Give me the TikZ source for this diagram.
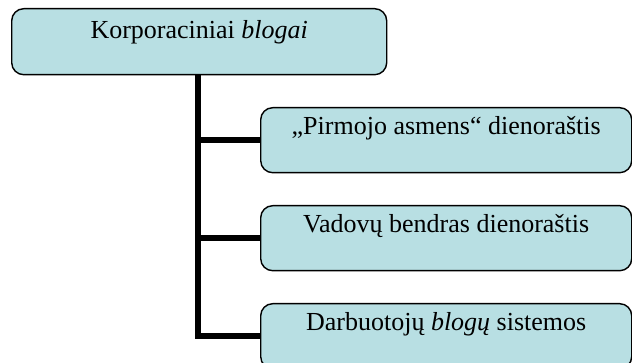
\documentclass[tikz,border=0pt]{standalone}
\usepackage{fontspec}
\setmainfont{Liberation Serif}
\begin{document}
\begin{tikzpicture}[x=1pt,y=-1pt,
  box/.style={draw=black, line width=1.4pt, rounded corners=12pt,
    fill=boxfill, inner sep=0pt, font=\fontsize{26}{30}\selectfont},
  topbox/.style={box, minimum width=375pt, text height=30pt, text depth=36pt},
  subbox/.style={box, minimum width=371pt, text height=27pt, text depth=38pt},
  conn/.style={line width=6pt, line join=miter}]
\definecolor{boxfill}{RGB}{184,223,227}
\useasboundingbox (0,0) rectangle (632,363);
\node[topbox, anchor=north west] (root) at (11,8) {Korporaciniai \textit{blogai}};
\node[subbox, anchor=north west] (c1) at (260,107) {„Pirmojo asmens“ dienoraštis};
\node[subbox, anchor=north west] (c2) at (260,205) {Vadovų bendras dienoraštis};
\node[subbox, anchor=north west] (c3) at (260,303) {Darbuotojų \textit{blogų} sistemos};
\coordinate (trunk) at (198,0);
\draw[conn] (root.south -| trunk) -- (trunk |- c3.west) -- (c3.west);
\draw[conn] (trunk |- c1.west) -- (c1.west);
\draw[conn] (trunk |- c2.west) -- (c2.west);
\end{tikzpicture}
\end{document}
